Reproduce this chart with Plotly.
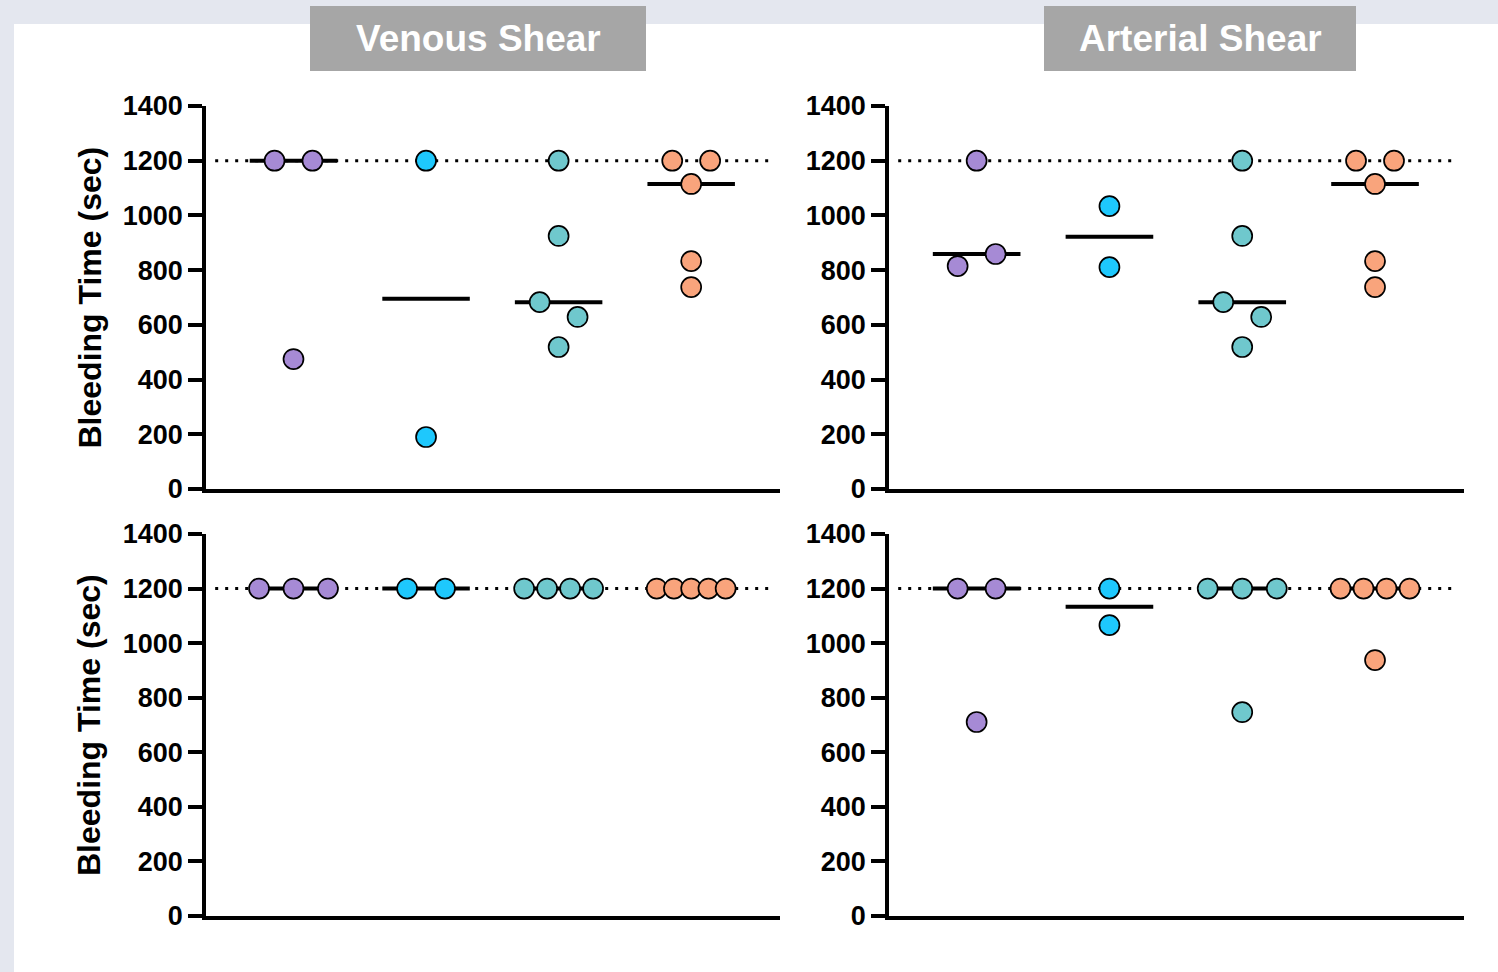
import numpy as np
import plotly.graph_objects as go

W, H = 1498, 972

# ---------------- data ----------------
group_colors = ["#a68ad5", "#1ec8fd", "#6fc8cd", "#f9a47c"]
yticks = [0, 200, 400, 600, 800, 1000, 1200, 1400]
cutoff = 1200

venous_row1 = [[1200, 1200, 475], [1200, 190], [1200, 925, 683, 629, 519], [1200, 1200, 1115, 833, 738]]
arterial_row1 = [[1200, 815, 859], [1034, 811], [1200, 925, 683, 629, 519], [1200, 1200, 1115, 833, 738]]
venous_row2 = [[1200, 1200, 1200], [1200, 1200], [1200, 1200, 1200, 1200], [1200, 1200, 1200, 1200, 1200]]
arterial_row2 = [[1200, 1200, 711], [1200, 1066], [1200, 1200, 1200, 747], [1200, 1200, 1200, 1200, 938]]

titles = ["Venous Shear", "Arterial Shear"]
ytitle = "Bleeding Time (sec)"

FONT = "Arial, Liberation Sans, sans-serif"

# ---------------- helpers ----------------
def fx(px):
    return px / W

def fy(py):
    return 1 - py / H

def swarm_offsets(vals, thresh=66, max_step=0.286, max_width=0.52):
    vals = list(vals)
    order = sorted(range(len(vals)), key=lambda i: vals[i])
    clusters = []
    for i in order:
        if clusters and vals[i] - vals[clusters[-1][-1]] < thresh:
            clusters[-1].append(i)
        else:
            clusters.append([i])
    off = [0.0] * len(vals)
    for c in clusters:
        c = sorted(c)
        n = len(c)
        if n == 1:
            continue
        step = min(max_step, max_width / (n - 1))
        for k, idx in enumerate(c):
            off[idx] = (k - (n - 1) / 2) * step
    return off

panels = [
    (venous_row1, (206, 780), (106, 489)),
    (arterial_row1, (889, 1464), (106, 489)),
    (venous_row2, (206, 780), (534, 916)),
    (arterial_row2, (889, 1464), (534, 916)),
]

fig = go.Figure()
layout_axes = {}
shapes = []

for p, (data, (x0, x1), (y0, y1)) in enumerate(panels):
    ax = "" if p == 0 else str(p + 1)
    xref, yref = "x" + ax, "y" + ax
    layout_axes["xaxis" + ax] = dict(
        domain=[fx(x0), fx(x1)], range=[-0.66, 3.67], anchor=yref,
        showline=True, linecolor="black", linewidth=3.5, ticks="",
        showticklabels=False, showgrid=False, zeroline=False, fixedrange=True,
        automargin=False,
    )
    layout_axes["yaxis" + ax] = dict(
        domain=[fy(y1), fy(y0)], range=[0, 1400], anchor=xref,
        tickvals=yticks, ticktext=[str(v) for v in yticks],
        showline=True, linecolor="black", linewidth=3.5,
        ticks="outside", ticklen=14, tickwidth=3.5, tickcolor="black",
        tickfont=dict(family=FONT, size=27, color="black", weight="bold"),
        showgrid=False, zeroline=False, fixedrange=True, automargin=False,
    )
    # dotted cutoff line
    shapes.append(dict(type="line", xref=xref + " domain", yref=yref,
                       x0=0.016, x1=0.984, y0=cutoff, y1=cutoff,
                       line=dict(color="black", width=3, dash="3px,7px"), layer="below"))
    # medians
    for g, vals in enumerate(data):
        med = float(np.median(vals))
        fig.add_trace(go.Scatter(
            x=[g - 0.33, g + 0.33], y=[med, med], mode="lines",
            line=dict(color="black", width=4), xaxis=xref, yaxis=yref,
            showlegend=False, hoverinfo="skip"))
    # points
    for g, vals in enumerate(data):
        off = swarm_offsets(vals)
        fig.add_trace(go.Scatter(
            x=[g + o for o in off], y=vals, mode="markers",
            marker=dict(size=20, color=group_colors[g], line=dict(color="black", width=1.7)),
            xaxis=xref, yaxis=yref, showlegend=False))

# background white panel
shapes.insert(0, dict(type="rect", xref="paper", yref="paper",
                      x0=fx(14), x1=1.0, y0=0.0, y1=fy(24),
                      fillcolor="white", line=dict(width=0), layer="below"))
# title boxes
boxes = [(310, 646), (1044, 1356)]
annotations = []
for (bx0, bx1), t in zip(boxes, titles):
    shapes.append(dict(type="rect", xref="paper", yref="paper",
                       x0=fx(bx0), x1=fx(bx1), y0=fy(71), y1=fy(6),
                       fillcolor="#a6a6a6", line=dict(width=0), layer="above"))
    annotations.append(dict(xref="paper", yref="paper", x=fx((bx0 + bx1) / 2), y=fy(39),
                            text=t, showarrow=False, xanchor="center", yanchor="middle",
                            font=dict(family=FONT, size=37, color="white", weight="bold")))
for yc in [(106 + 489) / 2, (534 + 916) / 2]:
    annotations.append(dict(xref="paper", yref="paper", x=fx(89), y=fy(yc),
                            text=ytitle, showarrow=False, textangle=-90,
                            xanchor="center", yanchor="middle",
                            font=dict(family=FONT, size=32, color="black", weight="bold")))

fig.update_layout(
    template="none",
    width=W, height=H, autosize=False,
    margin=dict(l=0, r=0, t=0, b=0, pad=0),
    paper_bgcolor="#e4e7ef", plot_bgcolor="rgba(0,0,0,0)",
    shapes=shapes, annotations=annotations, showlegend=False,
    **layout_axes,
)

fig.write_html("out.html", config={"displayModeBar": False},
               post_script="document.body.style.margin='0';document.body.style.overflow='hidden';")
